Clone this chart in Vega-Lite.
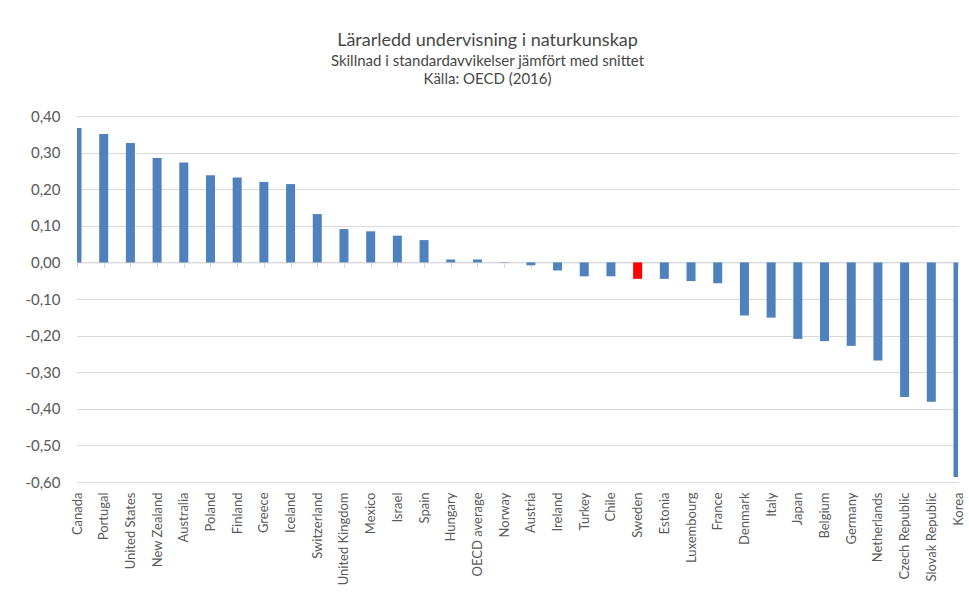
{
  "$schema": "https://vega.github.io/schema/vega-lite/v6.json",
  "width": 881,
  "height": 366,
  "autosize": "none",
  "padding": {"left": 77, "top": 116, "right": 11, "bottom": 116},
  "background": "white",
  "config": {
    "view": {"stroke": null},
    "font": "Lato",
    "locale": {"number": {"decimal": ",", "thousands": " ", "grouping": [3], "currency": ["", " kr"], "minus": "-"}}
  },
  "title": {
    "text": "Lärarledd undervisning i naturkunskap",
    "subtitle": ["Skillnad i standardavvikelser jämfört med snittet", "Källa: OECD (2016)"],
    "fontSize": 18,
    "subtitleFontSize": 15,
    "font": "Lato",
    "subtitleFont": "Lato",
    "fontWeight": "normal",
    "color": "#474747",
    "subtitleColor": "#474747",
    "anchor": "middle",
    "dx": -30,
    "offset": 22,
    "subtitlePadding": 4,
    "subtitleLineHeight": 18
  },
  "data": {
    "values": [
      {"country": "Canada", "value": 0.367},
      {"country": "Portugal", "value": 0.351},
      {"country": "United States", "value": 0.326},
      {"country": "New Zealand", "value": 0.285},
      {"country": "Australia", "value": 0.273},
      {"country": "Poland", "value": 0.238},
      {"country": "Finland", "value": 0.232},
      {"country": "Greece", "value": 0.220},
      {"country": "Iceland", "value": 0.214},
      {"country": "Switzerland", "value": 0.132},
      {"country": "United Kingdom", "value": 0.091},
      {"country": "Mexico", "value": 0.085},
      {"country": "Israel", "value": 0.073},
      {"country": "Spain", "value": 0.061},
      {"country": "Hungary", "value": 0.008},
      {"country": "OECD average", "value": 0.008},
      {"country": "Norway", "value": 0.001},
      {"country": "Austria", "value": -0.008},
      {"country": "Ireland", "value": -0.022},
      {"country": "Turkey", "value": -0.038},
      {"country": "Chile", "value": -0.038},
      {"country": "Sweden", "value": -0.045},
      {"country": "Estonia", "value": -0.045},
      {"country": "Luxembourg", "value": -0.051},
      {"country": "France", "value": -0.057},
      {"country": "Denmark", "value": -0.145},
      {"country": "Italy", "value": -0.151},
      {"country": "Japan", "value": -0.209},
      {"country": "Belgium", "value": -0.215},
      {"country": "Germany", "value": -0.228},
      {"country": "Netherlands", "value": -0.268},
      {"country": "Czech Republic", "value": -0.368},
      {"country": "Slovak Republic", "value": -0.381},
      {"country": "Korea", "value": -0.586}
    ]
  },
  "encoding": {
    "y": {
      "field": "value",
      "type": "quantitative",
      "scale": {"domain": [-0.6, 0.4], "nice": false, "zero": false},
      "axis": {
        "title": null,
        "format": ".2f",
        "values": [-0.6, -0.5, -0.4, -0.3, -0.2, -0.1, 0, 0.1, 0.2, 0.3, 0.4],
        "labelOverlap": false,
        "labelFontSize": 15,
        "labelFont": "Lato",
        "labelColor": "#595959",
        "labelPadding": 17,
        "ticks": false,
        "domain": false,
        "grid": true,
        "gridColor": "#d9d9d9",
        "gridWidth": 1
      }
    }
  },
  "layer": [
    {
      "mark": {"type": "bar", "width": 9, "clip": true},
      "encoding": {
        "x": {
          "field": "country",
          "type": "nominal",
          "sort": null,
          "scale": {"type": "point", "padding": 0},
          "axis": {
            "title": null,
            "orient": "bottom",
            "labelAngle": -90,
            "labelFontSize": 13,
            "labelFont": "Lato",
            "labelColor": "#595959",
            "labelPadding": 10,
            "ticks": false,
            "domain": false,
            "grid": false
          }
        },
        "color": {
          "condition": {"test": "datum.country === 'Sweden'", "value": "#FF0000"},
          "value": "#4F81BD"
        }
      }
    },
    {
      "mark": {"type": "bar", "width": 9, "opacity": 0},
      "encoding": {
        "x": {
          "field": "country",
          "type": "nominal",
          "sort": null,
          "axis": {
            "title": null,
            "orient": "top",
            "labels": false,
            "ticks": true,
            "tickSize": -5,
            "tickColor": "#d9d9d9",
            "domain": true,
            "domainColor": "#d9d9d9",
            "offset": -146.4,
            "grid": false
          }
        }
      }
    }
  ],
  "resolve": {"axis": {"x": "independent"}}
}
